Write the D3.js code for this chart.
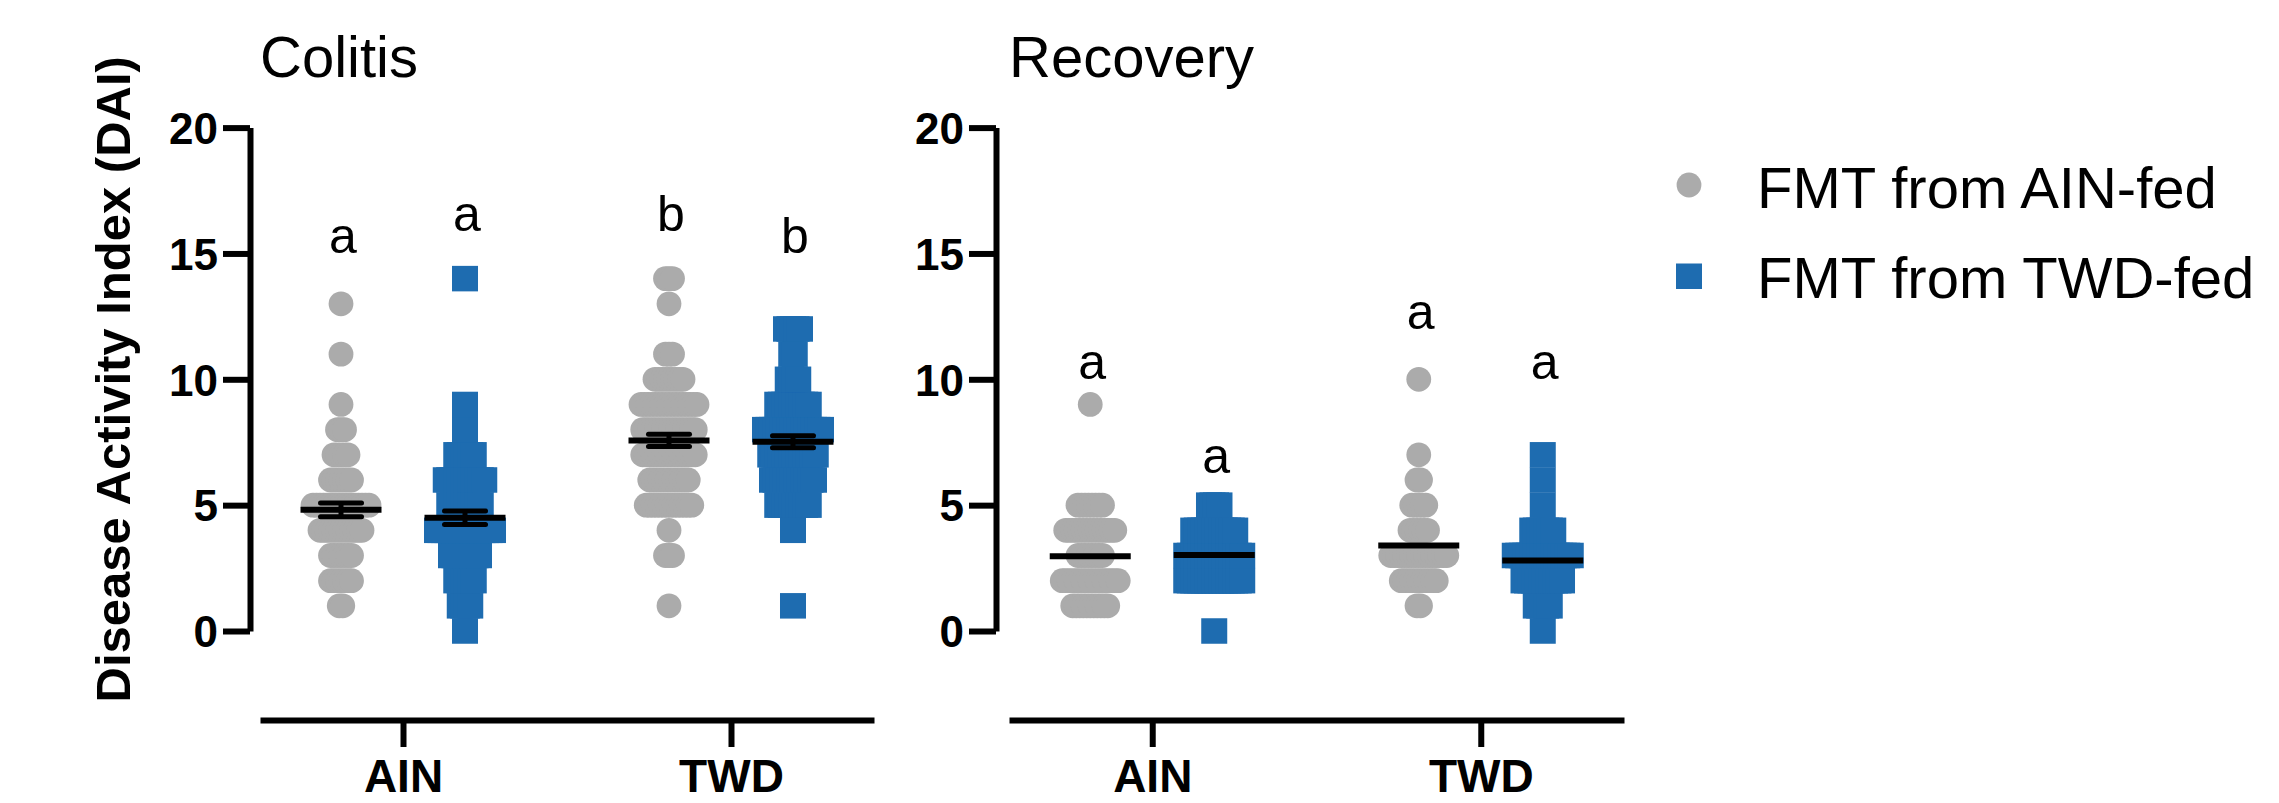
<!DOCTYPE html>
<html>
<head>
<meta charset="utf-8">
<script src="https://cdn.jsdelivr.net/npm/d3@7"></script>
<style>
  body { margin: 0; background: #fff; }
  svg { display: block; font-family: "Liberation Sans", Arial, Helvetica, sans-serif; }
</style>
</head>
<body>
<svg id="chart"></svg>
<script>
// recipient diet on the x axis, donor of the FMT as the two series
const diets = ["AIN", "TWD"];
const donors = ["FMT from AIN-fed", "FMT from TWD-fed"];
const yTicks = [0, 5, 10, 15, 20];

// number of mice at each DAI score, index = score 0..14
const colitisAinGray = [0, 2, 7, 7, 13, 17, 7, 5, 3, 1, 0, 1, 0, 1, 0];
const colitisAinBlue = [1, 4, 6, 9, 17, 10, 12, 6, 1, 1, 0, 0, 0, 0, 1];
const colitisTwdGray = [0, 1, 0, 3, 1, 14, 12, 16, 16, 17, 9, 3, 0, 1, 3];
const colitisTwdBlue = [0, 1, 0, 0, 1, 10, 13, 14, 17, 10, 4, 2, 5, 0, 0];

const recoveryAinGray = [0, 11, 17, 8, 15, 8, 0, 0, 0, 1, 0, 0, 0, 0, 0];
const recoveryAinBlue = [1, 0, 17, 17, 13, 4, 0, 0, 0, 0, 0, 0, 0, 0, 0];
const recoveryTwdGray = [0, 2, 11, 17, 6, 5, 2, 1, 0, 0, 1, 0, 0, 0, 0];
const recoveryTwdBlue = [1, 5, 12, 17, 7, 1, 1, 1, 0, 0, 0, 0, 0, 0, 0];

// significance letters and the DAI height they sit at
const colitisLetters = [["a", "a"], ["b", "b"]];
const colitisLetterAt = [[15.0, 15.9], [15.9, 15.0]];
const recoveryLetters = [["a", "a"], ["a", "a"]];
const recoveryLetterAt = [[10.0, 6.26], [12.0, 10.0]];

const gray = "#ABABAB";
const blue = "#1E6CB0";
const step = 3.5; // horizontal spread between mice with the same score

const width = 2279, height = 803;
const svg = d3.select("#chart").attr("width", width).attr("height", height);

const y = d3.scaleLinear().domain([0, 20]).range([631, 127.6]);
const sub = d3.scalePoint().domain(donors).range([-62, 62]);

const panels = [
  {
    title: "Colitis", axisX: 250, range: [260, 874], sem: true,
    series: [[colitisAinGray, colitisAinBlue], [colitisTwdGray, colitisTwdBlue]],
    letters: colitisLetters, letterAt: colitisLetterAt
  },
  {
    title: "Recovery", axisX: 996, range: [1009, 1624], sem: false,
    series: [[recoveryAinGray, recoveryAinBlue], [recoveryTwdGray, recoveryTwdBlue]],
    letters: recoveryLetters, letterAt: recoveryLetterAt
  }
];

function swarm(counts) {
  const pts = [];
  counts.forEach((n, score) => {
    for (let i = 0; i < n; i++) pts.push({ score, dx: (i - (n - 1) / 2) * step });
  });
  return pts;
}

panels.forEach((p) => {
  const x = d3.scalePoint().domain(diets).range(p.range).padding(0.436);
  const g = svg.append("g");

  // titles
  g.append("text")
    .attr("x", p.range[0])
    .attr("y", 76.5)
    .attr("font-size", 58)
    .text(p.title);

  diets.forEach((diet, di) => {
    donors.forEach((donor, si) => {
      const counts = p.series[di][si];
      const cx = x(diet) + sub(donor);
      const pts = swarm(counts);

      if (si === 0) {
        g.append("g").selectAll("circle")
          .data(pts)
          .enter()
          .append("circle")
          .attr("cx", (d) => cx + d.dx)
          .attr("cy", (d) => y(d.score))
          .attr("r", 12.4)
          .attr("fill", gray);
      } else {
        g.append("g").selectAll("rect")
          .data(pts)
          .enter()
          .append("rect")
          .attr("x", (d) => cx + d.dx - 13)
          .attr("y", (d) => y(d.score) - 12.75)
          .attr("width", 26)
          .attr("height", 25.5)
          .attr("fill", blue);
      }

      // mean (and SEM for colitis)
      const vals = counts.flatMap((n, s) => d3.range(n).map(() => s));
      const m = d3.mean(vals);
      const sem = d3.deviation(vals) / Math.sqrt(vals.length);
      if (p.sem) {
        g.append("line")
          .attr("x1", cx).attr("x2", cx)
          .attr("y1", y(m - sem)).attr("y2", y(m + sem))
          .attr("stroke", "black").attr("stroke-width", 5);
        [m - sem, m + sem].forEach((v) => {
          g.append("line")
            .attr("x1", cx - 20.5).attr("x2", cx + 20.5)
            .attr("y1", y(v)).attr("y2", y(v))
            .attr("stroke", "black").attr("stroke-width", 5)
            .attr("stroke-linecap", "round");
        });
      }
      g.append("line")
        .attr("x1", cx - 40.5).attr("x2", cx + 40.5)
        .attr("y1", y(m)).attr("y2", y(m))
        .attr("stroke", "black").attr("stroke-width", 6);

      g.append("text")
        .attr("x", cx + 2)
        .attr("y", y(p.letterAt[di][si]))
        .attr("text-anchor", "middle")
        .attr("font-size", 50)
        .text(p.letters[di][si]);
    });
  });

  // y axis
  const yAxis = g.append("g")
    .attr("transform", `translate(${p.axisX},0)`)
    .call(d3.axisLeft(y).tickValues(yTicks).tickSize(27).tickSizeOuter(0).tickPadding(5));
  // x axis
  const xAxis = g.append("g")
    .attr("transform", "translate(0,720)")
    .call(d3.axisBottom(x).tickSize(27).tickSizeOuter(0).tickPadding(12));

  [yAxis, xAxis].forEach((a) => {
    a.attr("font-family", null).attr("font-size", null);
    a.select(".domain").attr("stroke-width", 6);
    a.selectAll(".tick line").attr("stroke-width", 6);
    a.selectAll(".tick text").attr("font-weight", "bold").attr("fill", "black");
  });
  yAxis.selectAll(".tick text").attr("font-size", 44).attr("dy", "0.36em");
  xAxis.selectAll(".tick text").attr("font-size", 46);
});

// y axis label
svg.append("text")
  .attr("transform", `translate(130,${(y(0) + y(20)) / 2}) rotate(-90)`)
  .attr("text-anchor", "middle")
  .attr("font-size", 49)
  .attr("font-weight", "bold")
  .text("Disease Activity Index (DAI)");

// legend
const legend = svg.append("g");
legend.append("circle")
  .attr("cx", 1689).attr("cy", 185).attr("r", 12.4)
  .attr("fill", gray);
legend.append("rect")
  .attr("x", 1676).attr("y", 263.5).attr("width", 26).attr("height", 25.5)
  .attr("fill", blue);
legend.selectAll(".lab")
  .data(donors)
  .enter()
  .append("text")
  .attr("class", "lab")
  .attr("x", 1757)
  .attr("y", (d, i) => 208 + i * 90)
  .attr("font-size", 58)
  .text((d) => d);
</script>
</body>
</html>
